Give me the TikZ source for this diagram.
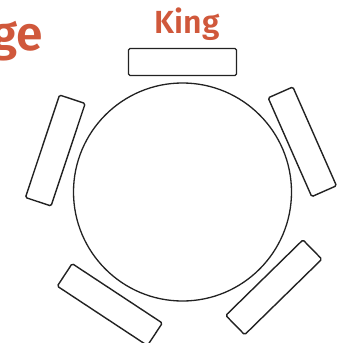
\documentclass[tikz,border=0pt]{standalone}
\usepackage{fontspec}
\setmainfont{Fira Sans}[BoldFont={Fira Sans SemiBold}]
\definecolor{titlered}{HTML}{D0583B}
\definecolor{ink}{HTML}{222222}
\begin{document}
\begin{tikzpicture}[x=1pt,y=-1pt,
  seat/.style={draw=ink, line width=1.4pt, rounded corners=1.5pt, minimum width=108pt, minimum height=27pt, inner sep=0pt, fill=white},
  tablec/.style={draw=ink, line width=1.3pt, circle, minimum size=218pt, inner sep=0pt},
  title/.style={text=titlered, font=\fontsize{32}{36}\selectfont\bfseries, inner sep=0pt}]
\useasboundingbox[fill=white] (0,0) rectangle (342,343);
\node[tablec] (table) at (182.5,192) {};
\node[seat] (s1) at (182.5,62) {};
\node[seat, rotate=71.6] (s2) at (55.3,150.5) {};
\node[seat, rotate=-66.2] (s3) at (302.3,141.8) {};
\node[seat, rotate=-33.4] (s4) at (109.8,304.6) {};
\node[seat, rotate=44.4] (s5) at (273.8,287.3) {};
\node[title, anchor=base] (king) at (187,33) {King};
\node[title, font=\fontsize{48}{54}\selectfont\bfseries, anchor=base east] (ge) at (43,50) {ge};
\end{tikzpicture}
\end{document}
